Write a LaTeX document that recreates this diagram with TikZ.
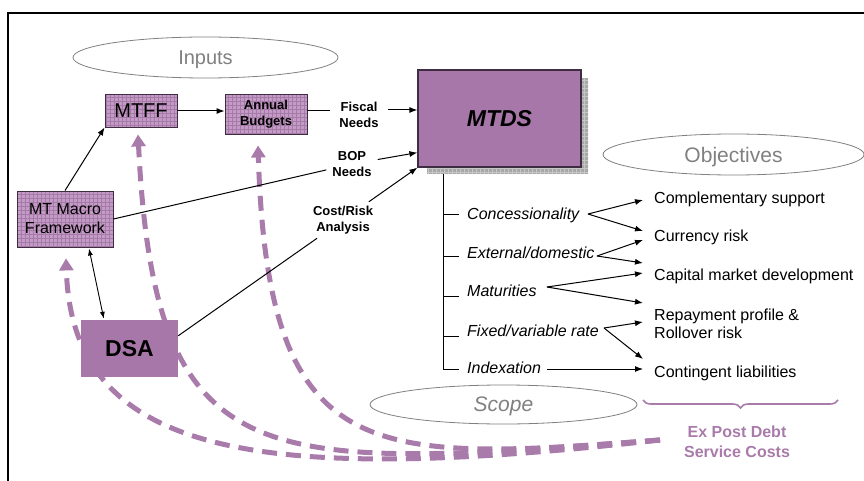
\documentclass[tikz,border=0pt]{standalone}
\usepackage{fontspec}
\setmainfont{Liberation Sans}
\usetikzlibrary{arrows.meta,decorations.pathreplacing,shapes.geometric,calc}
\definecolor{pur}{HTML}{A877A9}
\definecolor{gridfill}{HTML}{C49BC6}
\definecolor{gridln}{HTML}{A57AA7}
\definecolor{dashpur}{HTML}{A97BAA}
\definecolor{ovalgray}{HTML}{808080}
\definecolor{shadowgray}{HTML}{A8A8A8}
\definecolor{shadowln}{HTML}{C6C6C6}
\definecolor{boxline}{HTML}{3E2C40}
\begin{document}
\begin{tikzpicture}[x=1pt,y=-1pt,
  gridnode/.style={draw=boxline, line width=0.9pt, fill=gridfill, inner sep=0pt, align=center,
    path picture={\draw[gridln,line width=0.4pt] (path picture bounding box.south west) grid[step=4pt] (path picture bounding box.north east);}},
  oval/.style={ellipse, draw=ovalgray, line width=0.8pt, inner sep=0pt, text=ovalgray, text depth=0pt},
  lbl/.style={font=\bfseries\fontsize{13}{16}\selectfont, align=center, inner xsep=6pt, inner ysep=4pt},
  scopeitem/.style={font=\itshape\fontsize{16}{18}\selectfont, anchor=west, inner sep=0pt},
  objitem/.style={font=\fontsize{16}{18}\selectfont, anchor=west, inner sep=0pt, align=left},
  arr/.style={-{Latex[length=8pt,width=6pt]}, line width=1pt},
  thin/.style={line width=1pt},
  dcurve/.style={dashpur, line width=5pt, dash pattern=on 15pt off 9pt, -{Triangle[length=12pt,width=14pt]}}
]
\useasboundingbox (0,0) rectangle (864,481);
% frame
\draw[line width=1.1pt] (8,481) -- (8,13) -- (864,13);

% ellipses
\node[oval, minimum width=265pt, minimum height=41pt, font=\fontsize{20}{22}\selectfont] (inputs) at (205.5,57.5) {Inputs};
\node[oval, minimum width=261pt, minimum height=41pt, font=\fontsize{21}{23}\selectfont] (objectives) at (733.5,154.5) {Objectives};
\node[oval, minimum width=267pt, minimum height=39pt, font=\itshape\fontsize{21}{23}\selectfont] (scope) at (503.5,404.5) {Scope};

% boxes
\node[gridnode, minimum width=72pt, minimum height=33pt, font=\fontsize{20}{22}\selectfont] (mtff) at (141,110.5) {MTFF};
\node[gridnode, minimum width=82pt, minimum height=40pt, font=\bfseries\fontsize{13}{16}\selectfont] (ab) at (266,114) {Annual\\Budgets};
\node[gridnode, minimum width=96pt, minimum height=56pt, font=\fontsize{16}{19}\selectfont] (mm) at (65,219) {MT Macro\\Framework};

% MTDS with shadow
\path[fill=shadowgray, path picture={\draw[shadowln,line width=0.5pt] (path picture bounding box.south west) grid[step=4pt] (path picture bounding box.north east);}] (427,78) rectangle (588,174);
\node[draw=boxline, line width=1.2pt, fill=pur, minimum width=163pt, minimum height=97pt, inner sep=0pt, font=\bfseries\itshape\fontsize{23}{25}\selectfont] (mtds) at (499.5,118.5) {MTDS};

% dashed feedback curves (drawn before DSA so DSA covers them)
\coordinate (ex) at (660,440);
\draw[dcurve] (ex) .. controls (260,485) and (72,458) .. ($(mm.south)+(1,11)$);
\draw[dcurve] (ex) .. controls (260,470) and (155,480) .. ($(mtff.south)+(-3,7)$);
\draw[dcurve] (ex) .. controls (370,462) and (268,468) .. ($(ab.south)+(-8,11)$);

\node[fill=pur, minimum width=97pt, minimum height=57pt, inner sep=0pt, font=\bfseries\fontsize{23}{25}\selectfont] (dsa) at (129.5,348.5) {DSA};

% labels on connectors
\node[lbl, inner xsep=9pt] (fisc) at (359,115) {Fiscal\\Needs};
\node[lbl] (bop) at (352,164) {BOP\\Needs};
\node[lbl] (cr) at (343,220) {Cost/Risk\\Analysis};

% connectors on the left
\draw[arr] (mm.north) -- (mtff.south west);
\draw[arr] (mtff.east |- 0,111) -- (ab.west |- 0,111);
\draw[thin] (ab.east |- 0,111) -- (fisc.west |- 0,111);
\draw[arr] (fisc.east |- 0,110) -- (mtds.west |- 0,110);
\draw[thin] (mm.east) -- (bop);
\draw[arr] (bop) -- ($(mtds.south west)+(0,-15)$);
\draw[thin] ($(dsa.north east)+(0,16)$) -- (cr);
\draw[arr] (cr) -- (mtds.south west);
\draw[{Latex[length=7pt,width=5pt]}-{Latex[length=7pt,width=5pt]}, line width=0.9pt] ($(mm.south)+(24,1)$) -- ($(dsa.north west)+(23,-1)$);

% scope items
\node[scopeitem] (con) at (467,215) {Concessionality};
\node[scopeitem] (ext) at (467,253) {External/domestic};
\node[scopeitem] (mat) at (467,291) {Maturities};
\node[scopeitem] (fix) at (467,331) {Fixed/variable rate};
\node[scopeitem] (ind) at (467,368) {Indexation};

\coordinate (br) at (443,174);
\draw[thin] (br) |- ($(ind.west)+(-8,1)$);
\draw[thin] (br |- 0,214) -- ++(16,0);
\draw[thin] (br |- 0,256) -- ++(16,0);
\draw[thin] (br |- 0,296) -- ++(16,0);
\draw[thin] (br |- 0,336) -- ++(16,0);

% objectives
\node[objitem] (cs) at (654,199) {Complementary support};
\node[objitem] (cur) at (654,237) {Currency risk};
\node[objitem] (cm) at (654,276) {Capital market development};
\node[objitem] (rp) at (654,324) {Repayment profile \&\\Rollover risk};
\node[objitem] (cl) at (654,373) {Contingent liabilities};

% scope -> objective arrows
\coordinate (s1) at (588,214);
\coordinate (s2) at (597,256);
\coordinate (s3) at (547,287);
\coordinate (s4) at (604,328);
\coordinate (s5) at (547,369);
\draw[arr] (s1) -- ($(cs.west)+(-11,1)$);
\draw[arr] (s1) -- ($(cur.west)+(-11,-6)$);
\draw[arr] (s2) -- ($(cur.west)+(-11,3)$);
\draw[arr] (s2) -- ($(cm.west)+(-11,-13)$);
\draw[arr] (s3) -- ($(cm.west)+(-11,-3)$);
\draw[arr] (s3) -- ($(rp.west)+(-11,-21)$);
\draw[arr] (s4) -- ($(rp.west)+(-11,-2)$);
\draw[arr] (s4) -- ($(cl.west)+(-11,-14)$);
\draw[arr] (s5) -- ($(cl.west)+(-11,-4)$);

% brace and ex post label
\draw[dashpur, line width=1.6pt, decorate, decoration={brace, mirror, amplitude=8pt}] (643,400) -- (838,400);
\node[font=\bfseries\fontsize{16}{20}\selectfont, text=dashpur, align=center] (expost) at (737,442) {Ex Post Debt\\Service Costs};
\end{tikzpicture}
\end{document}
